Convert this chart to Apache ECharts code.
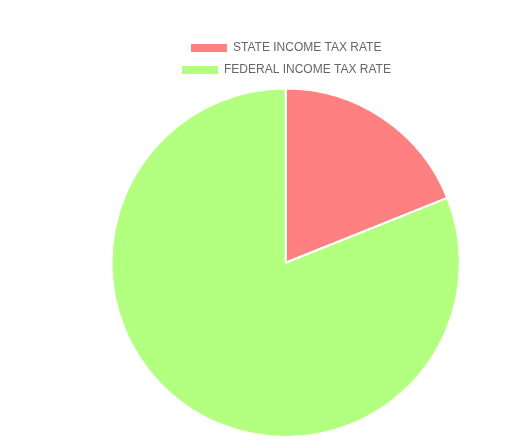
<!DOCTYPE html>
<html><head><meta charset="utf-8">
<script src="https://cdn.jsdelivr.net/npm/echarts@6/dist/echarts.min.js"></script>
<style>html,body{margin:0;padding:0;background:#fff}#c{width:512px;height:448px}</style>
</head><body><div id="c"></div>
<script>
const categories = ['STATE INCOME TAX RATE', 'FEDERAL INCOME TAX RATE'];
const values = [7, 30];
const colors = ['#ff8080', '#b3ff80'];
const chart = echarts.init(document.getElementById('c'), null, {renderer: 'canvas'});
const legendCommon = {
  orient: 'horizontal', itemWidth: 38, itemHeight: 10, itemGap: 10, padding: 0,
  icon: 'rect', textStyle: {color: '#666', fontSize: 12, fontFamily: 'Liberation Sans, Arial, sans-serif'},
  selectedMode: false
};
chart.setOption({
  animation: false,
  color: colors,
  legend: [
    Object.assign({}, legendCommon, {left: 189, top: 42, data: [categories[0]]}),
    Object.assign({}, legendCommon, {left: 180, top: 64, data: [categories[1]]})
  ],
  series: [{
    type: 'pie',
    center: [285.7, 262.8],
    radius: 174.2,
    startAngle: 90,
    clockwise: true,
    label: {show: false},
    labelLine: {show: false},
    itemStyle: {borderColor: '#fff', borderWidth: 2},
    emphasis: {disabled: true},
    data: categories.map((n, i) => ({name: n, value: values[i]}))
  }]
});
</script></body></html>
